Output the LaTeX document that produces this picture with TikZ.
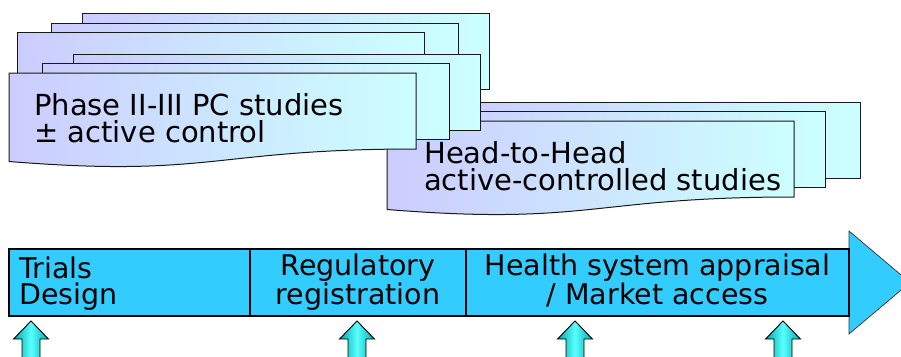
\documentclass[tikz,border=0pt]{standalone}
\usepackage{fontspec}
\newfontfamily\dvs{DejaVu Sans}
\definecolor{docL}{RGB}{204,204,255}
\definecolor{docR}{RGB}{204,255,255}
\definecolor{barC}{RGB}{51,204,255}
\definecolor{arrE}{RGB}{0,165,165}
\definecolor{arrM}{RGB}{90,255,255}
\newcommand\pagerect[2]{\path[pagebox] (#1,#2) rectangle ++(407,76);}
\newcommand\pagewave[2]{\begin{scope}[shift={(#1,#2)}]\path[pagebox] (0,0) -- (407,0) -- (407,76) .. controls (203.5,76) and (203.5,104.9) .. (0,88.5) -- cycle;\end{scope}}
\newcommand\uparr[1]{\path[upar] (#1,321) -- (#1+17.5,339) -- (#1+9,339) -- (#1+9,362) -- (#1-9,362) -- (#1-9,339) -- (#1-17.5,339) -- cycle;}
\begin{document}
\begin{tikzpicture}[x=1pt,y=-1pt,
  pagebox/.style={draw=black!90, line width=1pt, left color=docL, right color=docR},
  cellbox/.style={draw=black, line width=1.5pt},
  upar/.style={draw=black, line width=0.9pt, left color=arrE, right color=arrE, middle color=arrM},
  lbl/.style={font=\dvs\fontsize{29}{27}\selectfont, inner sep=0pt, text=black},
  blbl/.style={font=\dvs\fontsize{28.5}{26}\selectfont, inner sep=0pt, text=black}]
\useasboundingbox (0,0) rectangle (901,356);
% back group of pages
\pagerect{82}{13}
\pagerect{51}{23}
\pagerect{17}{32}
% head-to-head group
\pagerect{453}{102}
\pagerect{418}{111}
\pagewave{387}{121}
% front group
\pagerect{73}{54}
\pagerect{42}{63}
\pagewave{9}{73}
\node[lbl, anchor=base west, align=left] (ph) at (34,142) {Phase II-III PC studies\\± active control};
\node[lbl, anchor=base west, align=left] (hh) at (424,190) {Head-to-Head\\active-controlled studies};
% timeline arrow
\path[draw=black!80, line width=0.7pt, fill=barC] (9,249) -- (849,249) -- (849,231) -- (910,282.5) -- (849,334) -- (849,316) -- (9,316) -- cycle;
\draw[cellbox] (9,249) rectangle (250,316);
\draw[cellbox] (250,249) rectangle (466,316);
\draw[cellbox] (466,249) rectangle (849,316);
\node[blbl, anchor=base west, align=left] (td) at (19,304) {Trials\\Design};
\node[blbl, anchor=base, align=center] (rr) at (358,304) {Regulatory\\registration};
\node[blbl, anchor=base, align=center] (hs) at (657.5,304) {Health system appraisal\\/ Market access};
\uparr{31}
\uparr{357}
\uparr{575}
\uparr{783}
\end{tikzpicture}
\end{document}
